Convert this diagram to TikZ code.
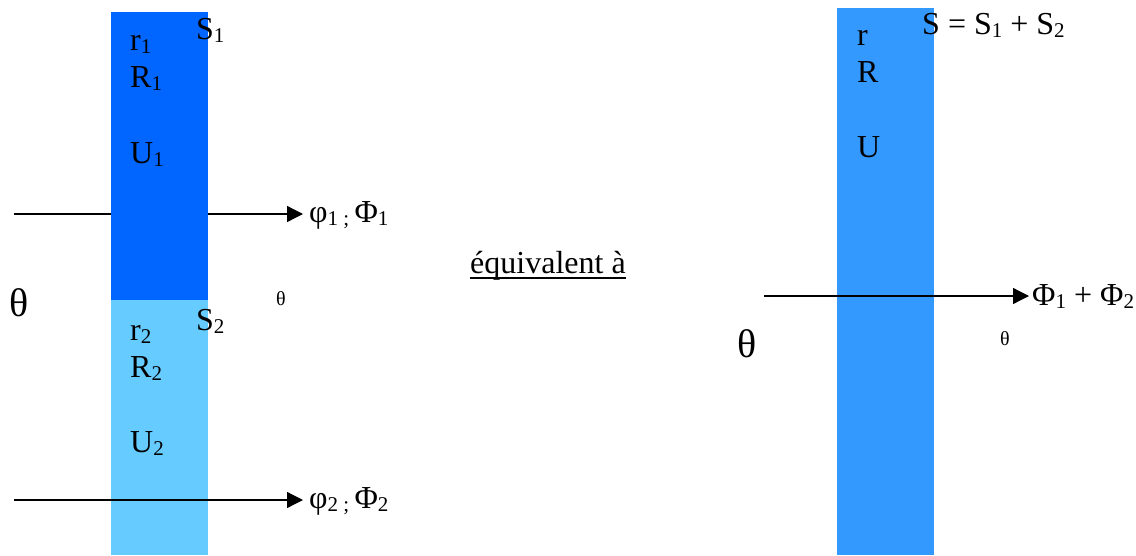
\documentclass[tikz,border=0pt]{standalone}
\usepackage{fontspec}
\setmainfont{Liberation Serif}
\usetikzlibrary{arrows.meta,calc}
\newcommand{\lowidx}[1]{\raisebox{-0.1em}{\fontsize{21}{21}\selectfont #1}}
\definecolor{darkbar}{HTML}{0066FF}
\definecolor{lightbar}{HTML}{66CCFF}
\definecolor{midbar}{HTML}{3399FF}
\tikzset{
  lbl/.style={anchor=base west, inner sep=0, font=\fontsize{32}{32}\selectfont},
  bigth/.style={anchor=base west, inner sep=0, font=\fontsize{40}{40}\selectfont},
  smallth/.style={anchor=base west, inner sep=0, font=\fontsize{20}{20}\selectfont},
  flux/.style={line width=1.3pt, -{Triangle[length=16pt,width=16pt]}},
  bar/.style={draw=none, inner sep=0, outer sep=0, anchor=north west, minimum width=97pt}
}
\begin{document}
\begin{tikzpicture}[x=1pt,y=-1pt]
\useasboundingbox (0,0) rectangle (1136,555);
% first flux (behind the dark bar)
\coordinate (a1s) at (14,214);
\coordinate (a1e) at (303,214);
\draw[flux] (a1s) -- (a1e);
% bars
\node[bar, fill=darkbar, minimum height=288pt] (bar1) at (111,12) {};
\node[bar, fill=lightbar, minimum height=255pt] (bar2) at (111,300) {};
\node[bar, fill=midbar, minimum height=547pt] (bar3) at (837,8) {};
% other fluxes
\coordinate (a2s) at (14,500);
\coordinate (a2e) at (303,500);
\draw[flux] (a2s) -- (a2e);
\coordinate (a3s) at (764,296);
\coordinate (a3e) at (1029,296);
\draw[flux] (a3s) -- (a3e);
% left labels
\node[lbl] (r1) at (130,50) {r\lowidx{1}};
\node[lbl] (R1) at (130,87) {R\lowidx{1}};
\node[lbl] (U1) at (130,163) {U\lowidx{1}};
\node[lbl] (S1) at (196,39) {S\lowidx{1}};
\node[lbl] (r2) at (130,340) {r\lowidx{2}};
\node[lbl] (R2) at (130,377) {R\lowidx{2}};
\node[lbl] (U2) at (130,452) {U\lowidx{2}};
\node[lbl] (S2) at (196,330) {S\lowidx{2}};
\node[lbl] (f1) at (309,222) {φ\lowidx{1 ; }Φ\lowidx{1}};
\node[lbl] (f2) at (309,508) {φ\lowidx{2 ; }Φ\lowidx{2}};
\node[bigth] (th1) at (9,316) {θ};
\node[smallth] (th2) at (276,305) {θ};
% middle
\node[lbl] (eq) at (470,273) {équivalent à};
\draw[line width=1.6pt] ($(eq.base west)+(0,5)$) -- ($(eq.base east)+(0,5)$);
% right labels
\node[lbl] (r) at (857,45) {r};
\node[lbl] (R) at (857,82) {R};
\node[lbl] (U) at (857,157) {U};
\node[lbl] (S) at (922,34) {S = S\lowidx{1} + S\lowidx{2}};
\node[lbl] (f3) at (1032,305) {Φ\lowidx{1} + Φ\lowidx{2}};
\node[bigth] (th3) at (737,357) {θ};
\node[smallth] (th4) at (1000,345) {θ};
\end{tikzpicture}
\end{document}
